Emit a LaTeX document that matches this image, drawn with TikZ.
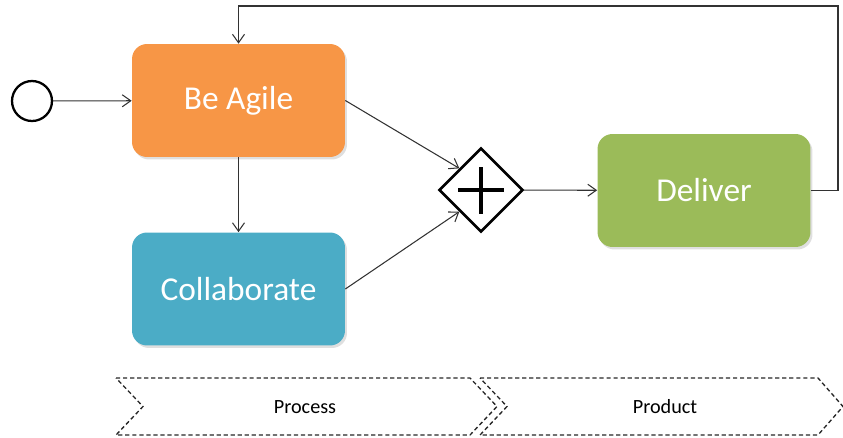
\documentclass[tikz,border=0pt]{standalone}
\usepackage{fontspec}
\setmainfont{Carlito}
\usepackage{tikz}
\usetikzlibrary{shapes.geometric,arrows.meta,positioning,shadows}
\definecolor{agile}{RGB}{247,150,70}
\definecolor{collab}{RGB}{75,172,198}
\definecolor{deliver}{RGB}{155,187,89}
\definecolor{wire}{RGB}{50,50,50}

\begin{document}
\begin{tikzpicture}[x=0.02cm,y=-0.02cm,
  task/.style={rounded corners=0.3cm,minimum width=4.26cm,minimum height=2.26cm,
    text=white,font=\fontsize{19}{23}\selectfont,
    drop shadow={opacity=0.25,shadow xshift=0.04cm,shadow yshift=-0.05cm}},
  flow/.style={-{Straight Barb[length=1.7mm,width=2.4mm]},wire,line width=0.6pt},
  phase/.style={dash pattern=on 2.4pt off 1.6pt,line width=0.75pt,black!85}]
  \useasboundingbox (0,0) rectangle (843,437);
  % Start event and tasks
  \node[circle,draw,line width=1.3pt,minimum size=0.8cm,inner sep=0pt] (start) at (32,101) {};
  \node[task,fill=agile] (agile) at (238.5,100.5) {Be Agile};
  \node[task,fill=collab] (collab) at (238.5,289) {Collaborate};
  \node[task,fill=deliver] (deliver) at (704,190.5) {Deliver};
  % Parallel gateway
  \node[diamond,draw,line width=1.5pt,minimum width=1.68cm,minimum height=1.68cm,inner sep=0pt,fill=white] (gate) at (481,190) {};
  \draw[line width=1.8pt] ([xshift=-0.46cm]gate.center) -- ([xshift=0.46cm]gate.center);
  \draw[line width=1.8pt] ([yshift=-0.47cm]gate.center) -- ([yshift=0.47cm]gate.center);
  % Sequence flows
  \draw[flow] (start) -- (agile);
  \draw[flow] (agile) -- (collab);
  \draw[flow] (agile.east) -- (gate.north west);
  \draw[flow] (collab.east) -- (gate.south west);
  \draw[flow] (gate) -- (deliver);
  \coordinate (loop) at (838,6);
  \draw[flow] (deliver.east) -| (loop) -| (agile.north);
  % Phases
  \draw[phase] (116,378) -- (470,378) -- (497,406.5) -- (470,435) -- (116,435) -- (143,406.5) -- cycle;
  \draw[phase] (480,378) -- (818,378) -- (843,406.5) -- (818,435) -- (480,435) -- (507,406.5) -- cycle;
  \node[font=\fontsize{11.5}{14}\selectfont] (process) at (305,407) {Process};
  \node[font=\fontsize{11.5}{14}\selectfont] (product) at (665,407) {Product};
\end{tikzpicture}
\end{document}
